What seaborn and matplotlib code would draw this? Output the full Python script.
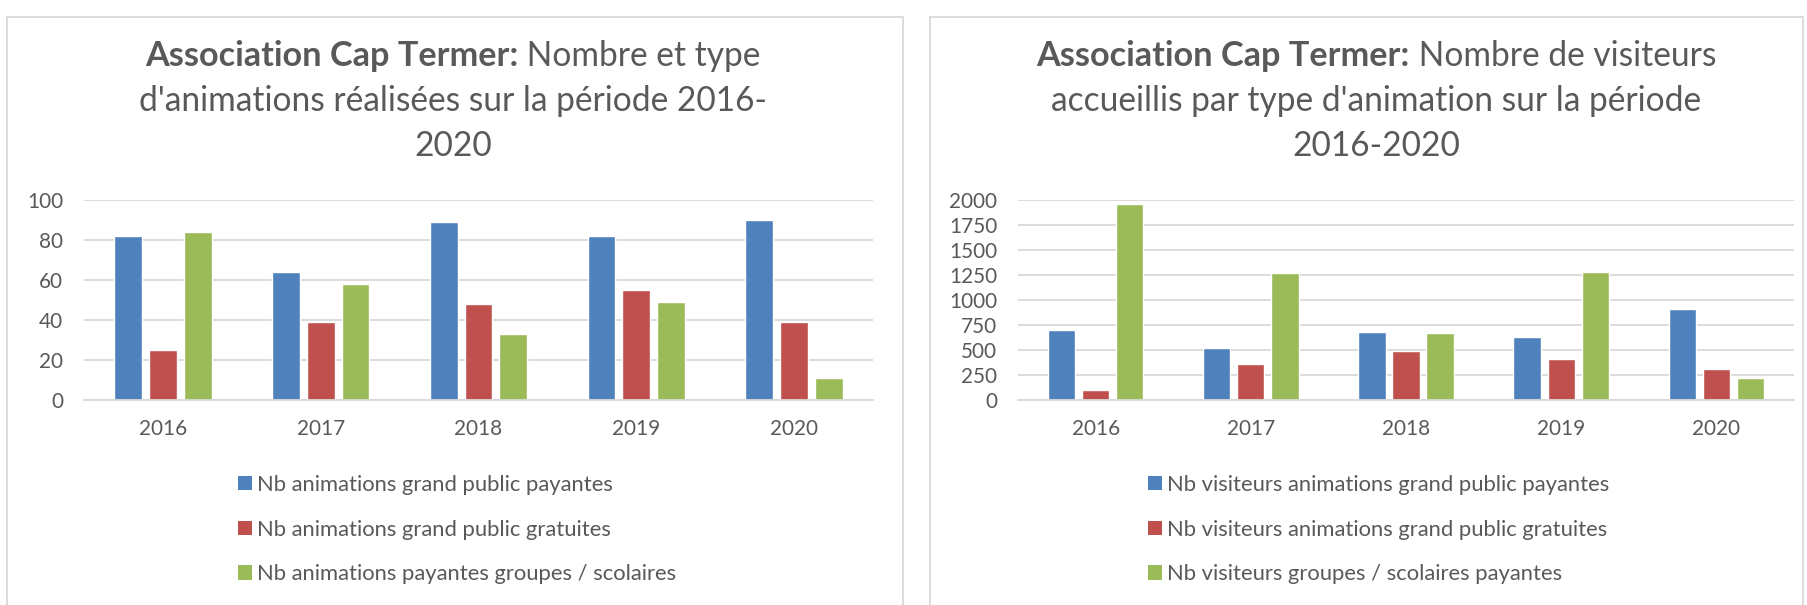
import matplotlib
matplotlib.use("Agg")
import matplotlib.pyplot as plt
import seaborn as sns
import pandas as pd
from matplotlib.patches import Rectangle, Patch

# data
years = ["2016", "2017", "2018", "2019", "2020"]

anim_payantes = [82, 64, 89, 82, 90]
anim_gratuites = [25, 39, 48, 55, 39]
anim_groupes = [84, 58, 33, 49, 11]
anim_labels = ["Nb animations grand public payantes",
               "Nb animations grand public gratuites",
               "Nb animations payantes groupes / scolaires"]

visit_payantes = [700, 520, 680, 630, 910]
visit_gratuites = [100, 365, 495, 410, 310]
visit_groupes = [1960, 1270, 670, 1285, 225]
visit_labels = ["Nb visiteurs animations grand public payantes",
                "Nb visiteurs animations grand public gratuites",
                "Nb visiteurs groupes / scolaires payantes"]

left_title = ["Nombre et type",
              "d'animations réalisées sur la période 2016-",
              "2020"]
right_title = ["Nombre de visiteurs",
               "accueillis par type d'animation sur la période",
               "2016-2020"]
title_bold = "Association Cap Termer:"

W, H = 1807, 605
TXT = "#595959"
GRID = "#D9D9D9"
COLORS = ["#4F81BD", "#C0504D", "#9BBB59"]

sns.set_theme(style="white")
plt.rcParams["font.family"] = ["Lato", "DejaVu Sans"]

fig = plt.figure(figsize=(W / 100, H / 100), dpi=100)
renderer = fig.canvas.get_renderer()


def fit_size(text, target_px, weight="normal", ref=20):
    # font size (pt) that makes `text` about target_px wide
    t = fig.text(0, 0, text, fontsize=ref, weight=weight)
    w = t.get_window_extent(renderer).width
    t.remove()
    return ref * target_px / w


TITLE_B = fit_size(title_bold, 373, weight="bold")
TITLE_R = fit_size(left_title[1], 630)
LEG_FS = fit_size(anim_labels[0], 358)
TICK_FS = fit_size("2016", 48)
LEG_PX = LEG_FS * 100 / 72


def rect_px(x0, y0, x1, y1):
    # pixel box (top-left origin) -> figure fraction rect
    return [x0 / W, 1 - y1 / H, (x1 - x0) / W, (y1 - y0) / H]


# panel frames
for x0, x1 in [(7, 903), (930, 1803)]:
    fig.patches.append(Rectangle((x0 / W, -0.02), (x1 - x0) / W, 1.02 - 17 / H,
                                 transform=fig.transFigure, fill=False,
                                 edgecolor=GRID, lw=1.3))


def draw_chart(box, series, labels, ymax, step, lines, cx, legend_x):
    ax = fig.add_axes(rect_px(*box))
    df = pd.DataFrame({
        "year": years * 3,
        "value": [v for s in series for v in s],
        "serie": [l for l in labels for _ in years],
    })
    sns.barplot(data=df, x="year", y="value", hue="serie", palette=COLORS,
                saturation=1, width=0.66, gap=0.2, legend=False, ax=ax)
    ax.set_xlim(-0.5, 4.5)
    ax.set_ylim(0, ymax)
    ax.set_yticks(range(0, ymax + 1, step))
    ax.set_xlabel("")
    ax.set_ylabel("")
    ax.grid(axis="y", color=GRID, lw=1.3)
    ax.set_axisbelow(True)
    for s in ["top", "right", "left"]:
        ax.spines[s].set_visible(False)
    ax.spines["bottom"].set_color(GRID)
    ax.spines["bottom"].set_linewidth(1.3)
    ax.tick_params(axis="y", length=0, pad=15, labelsize=TICK_FS, labelcolor=TXT)
    ax.tick_params(axis="x", length=0, pad=14, labelsize=TICK_FS, labelcolor=TXT)

    handles = [Patch(facecolor=c, edgecolor="none") for c in COLORS]
    fig.legend(handles, labels, loc="upper left",
               bbox_to_anchor=(legend_x / W, 1 - 475 / H),
               frameon=False, fontsize=LEG_FS, labelcolor=TXT,
               handlelength=14 / LEG_PX, handleheight=14 / LEG_PX,
               handletextpad=5 / LEG_PX,
               labelspacing=51 / LEG_PX - 1.2,
               borderaxespad=0, borderpad=0)

    # title: bold prefix + regular text on the first line
    tb = fig.text(0, 0, title_bold, weight="bold", fontsize=TITLE_B, color=TXT,
                  ha="left", va="baseline")
    tr = fig.text(0, 0, " " + lines[0], fontsize=TITLE_R, color=TXT,
                  ha="left", va="baseline")
    wb = tb.get_window_extent(renderer).width
    wr = tr.get_window_extent(renderer).width
    x0 = cx - (wb + wr) / 2
    tb.set_position((x0 / W, 1 - 66 / H))
    tr.set_position(((x0 + wb) / W, 1 - 66 / H))
    for i, line in enumerate(lines[1:]):
        fig.text(cx / W, 1 - (111 + 45 * i) / H, line, fontsize=TITLE_R,
                 color=TXT, ha="center", va="baseline")
    return ax


draw_chart((84, 200, 873, 400),
           [anim_payantes, anim_gratuites, anim_groupes],
           anim_labels, 100, 20, left_title, 453, 238)
draw_chart((1018, 200, 1794, 400),
           [visit_payantes, visit_gratuites, visit_groupes],
           visit_labels, 2000, 250, right_title, 1376, 1148)

fig.savefig("out.png", dpi=100, facecolor="white")
